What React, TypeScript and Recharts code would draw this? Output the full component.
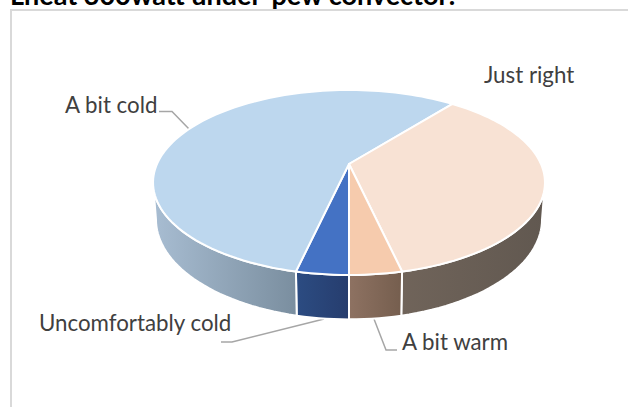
import { Cell, Pie, PieChart } from "recharts";

// Survey responses for the under-pew heater
const CATEGORIES = ["Uncomfortably cold", "A bit cold", "Just right", "A bit warm"];
const RESPONSES = [1, 16, 10, 1];
const TOP_COLORS = ["#4472C4", "#BDD7EE", "#F8E2D4", "#F6CBAD"];
const WALL_FROM = ["#2C4C82", "#A8BDD2", "#70645A", "#8E7262"];
const WALL_TO = ["#263D6E", "#7A8E9F", "#615850", "#755E4E"];

const TITLE = "Lheat 300watt under-pew convector:";

const pieData = CATEGORIES.map((name, i) => ({ name, value: RESPONSES[i] }));

// Perspective of the tilted disc
const WIDTH = 628;
const HEIGHT = 407;
const PERSPECTIVE = 0.2;
const SQUASH = 0.4625;
const DEPTH = 35.5;
const BASE_SHRINK = 0.985;

const FONT = "Lato, 'Open Sans', sans-serif";

type SectorProps = {
  cx: number;
  cy: number;
  outerRadius: number;
  startAngle: number;
  endAngle: number;
  fill: string;
};

function rimPoint(p: SectorProps, deg: number, bottom: boolean) {
  const a = (deg * Math.PI) / 180;
  const v = Math.sin(a);
  const w = 1 + PERSPECTIVE * v;
  const r = p.outerRadius * (bottom ? BASE_SHRINK : 1);
  return {
    x: p.cx + (r * Math.cos(a)) / w,
    y: p.cy - (p.outerRadius * SQUASH * v) / w + (bottom ? DEPTH / w : 0),
  };
}

function anglesBetween(from: number, to: number) {
  const steps = Math.max(2, Math.ceil(Math.abs(to - from) / 2));
  return Array.from({ length: steps + 1 }, (_, i) => from + ((to - from) * i) / steps);
}

const toPath = (pts: { x: number; y: number }[]) =>
  pts.map((pt, i) => `${i ? "L" : "M"}${pt.x.toFixed(2)},${pt.y.toFixed(2)}`).join(" ") + " Z";

/** Flat top of a slice, squashed into the tilted ellipse */
function TopFace(props: any) {
  const p = props as SectorProps;
  const rim = anglesBetween(p.startAngle, p.endAngle).map((d) => rimPoint(p, d, false));
  return (
    <path
      d={toPath([{ x: p.cx, y: p.cy }, ...rim])}
      fill={p.fill}
      stroke="#FFFFFF"
      strokeWidth={2}
      strokeLinejoin="round"
    />
  );
}

/** Visible side wall of a slice: only the part facing the viewer */
function SideWall(props: any) {
  const p = props as SectorProps;
  // Front arc in Recharts angles, where the slices run clockwise from -90 to -450
  const edge = (Math.asin(PERSPECTIVE) * 180) / Math.PI;
  const frontFrom = -180 + edge - 360;
  const frontTo = -edge - 360;
  const ranges = [0, 360].map((turn) => [
    Math.min(p.startAngle, frontTo + turn),
    Math.max(p.endAngle, frontFrom + turn),
  ]);
  const visible = ranges.find(([a, b]) => a > b);
  if (!visible) return null;
  const angles = anglesBetween(visible[0], visible[1]);
  const upper = angles.map((d) => rimPoint(p, d, false));
  const lower = angles.map((d) => rimPoint(p, d, true)).reverse();
  return (
    <path
      d={toPath([...upper, ...lower])}
      fill={p.fill}
      stroke="#FFFFFF"
      strokeWidth={2}
      strokeLinejoin="round"
    />
  );
}

const LABELS = [
  { text: "A bit cold", x: 65, y: 113, leader: "159,111.5 172,111.5 189,129" },
  { text: "Just right", x: 484, y: 83, leader: "" },
  { text: "Uncomfortably cold", x: 39, y: 331, leader: "221,342 232,342 324,319" },
  { text: "A bit warm", x: 402, y: 350, leader: "374,319 386,350 397,350" },
];

export default function App() {
  const pieProps = {
    data: pieData,
    dataKey: "value",
    nameKey: "name",
    cx: 349,
    cy: 164,
    innerRadius: 0,
    outerRadius: 192,
    startAngle: -90,
    endAngle: -450,
    stroke: "none",
    isAnimationActive: false,
    legendType: "none" as const,
  };

  return (
    <div style={{ position: "absolute", left: 0, top: 0, width: WIDTH, height: HEIGHT, overflow: "hidden", background: "#FFFFFF" }}>
      <PieChart width={WIDTH} height={HEIGHT} margin={{ top: 0, right: 0, bottom: 0, left: 0 }}>
        <defs>
          {CATEGORIES.map((name, i) => (
            <linearGradient key={name} id={`wall-${i}`} x1="0" y1="0" x2="1" y2="0">
              <stop offset="0%" stopColor={WALL_FROM[i]} />
              <stop offset="100%" stopColor={WALL_TO[i]} />
            </linearGradient>
          ))}
        </defs>

        {/* chart frame runs off the right and bottom edges */}
        <rect x={11} y={10} width={WIDTH + 20} height={HEIGHT + 20} fill="none" stroke="#D9D9D9" strokeWidth={2} />
        <text x={10} y={5} fontFamily={FONT} fontWeight={700} fontSize={27} fill="#000000">
          {TITLE}
        </text>

        <Pie {...pieProps} shape={SideWall} inactiveShape={SideWall}>
          {CATEGORIES.map((name, i) => (
            <Cell key={name} fill={`url(#wall-${i})`} />
          ))}
        </Pie>
        <Pie {...pieProps} shape={TopFace} inactiveShape={TopFace}>
          {CATEGORIES.map((name, i) => (
            <Cell key={name} fill={TOP_COLORS[i]} />
          ))}
        </Pie>

        {LABELS.map((l) => (
          <g key={l.text}>
            {l.leader && <polyline points={l.leader} fill="none" stroke="#A6A6A6" strokeWidth={1.5} />}
            <text x={l.x} y={l.y} fontFamily={FONT} fontSize={22.3} fill="#404040">
              {l.text}
            </text>
          </g>
        ))}
      </PieChart>
    </div>
  );
}
